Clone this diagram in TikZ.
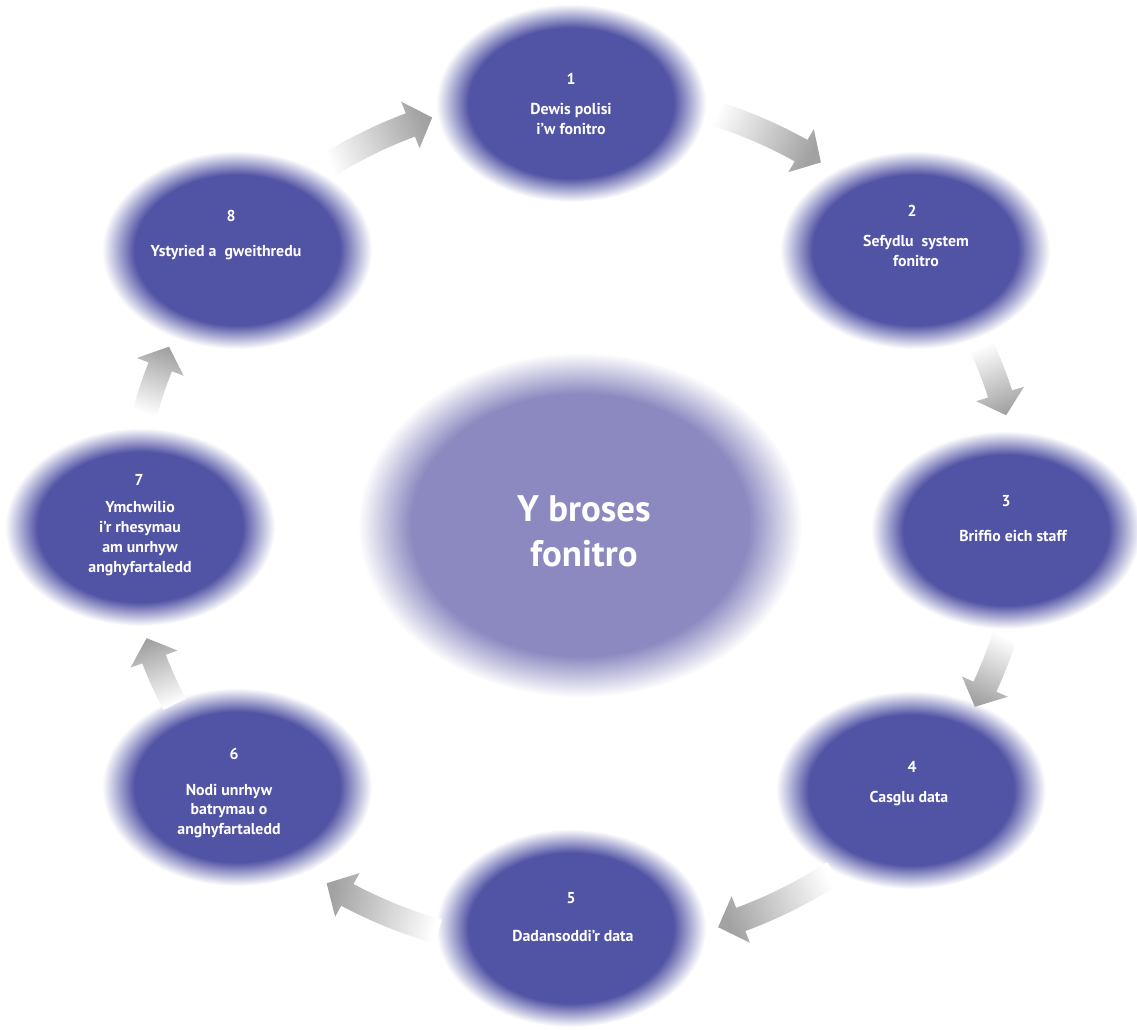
\documentclass[tikz,border=0pt]{standalone}
\usepackage{fontspec}
\setmainfont{PT Sans}
\usetikzlibrary{shapes.geometric}
\definecolor{nodeblue}{RGB}{81,83,164}
\definecolor{hubblue}{RGB}{139,137,192}
\definecolor{arrowgray}{RGB}{162,162,162}
\pgfdeclareradialshading{stepfade}{\pgfpoint{0bp}{0bp}}{color(0bp)=(nodeblue); color(19bp)=(nodeblue); color(25bp)=(white); color(50bp)=(white)}
\pgfdeclareradialshading{hubfade}{\pgfpoint{0bp}{0bp}}{color(0bp)=(hubblue); color(19bp)=(hubblue); color(25bp)=(white); color(50bp)=(white)}
% ring arrow: #1 tail angle, #2 tip angle, #3 ring scale, #4 shading angle
\newcommand{\ringarrow}[4]{%
  \pgfmathsetmacro\thh{#2-3}%
  \shade[top color=arrowgray, bottom color=white, shading angle=#4]
    plot[domain=#1:\thh, samples=14] ({573+(435*#3+12.5)*cos(\x)}, {515+(411*#3+12.5)*sin(\x)})
    -- ({573+(435*#3+25)*cos(\thh)}, {515+(411*#3+25)*sin(\thh)})
    -- ({573+435*#3*cos(#2)}, {515+411*#3*sin(#2)})
    -- ({573+(435*#3-25)*cos(\thh)}, {515+(411*#3-25)*sin(\thh)})
    -- plot[domain=\thh:#1, samples=14] ({573+(435*#3-12.5)*cos(\x)}, {515+(411*#3-12.5)*sin(\x)})
    -- cycle;
}
% step label: #1 name, #2 num x, #3 num baseline, #4 text x, #5 first baseline, #6 number, #7 lines
\newcommand{\steplabel}[7]{%
  \node[steptext] (#1n) at (#2,#3) {#6};
  \foreach \ln [count=\i] in {#7} {\node[steptext] (#1l\i) at (#4,{#5+19.7*(\i-1)}) {\ln};}
}
\tikzset{
  stepnode/.style={ellipse, shade, shading=stepfade, minimum width=5.4cm, minimum height=3.96cm, inner sep=0pt},
  hubnode/.style={ellipse, shade, shading=hubfade, minimum width=8.88cm, minimum height=6.9cm, inner sep=0pt},
  steptext/.style={text=white, font=\fontsize{9}{11}\selectfont\bfseries, anchor=base, inner sep=0pt},
  hubtext/.style={text=white, font=\fontsize{21}{25}\selectfont\bfseries, anchor=base, inner sep=0pt},
}
\begin{document}
\begin{tikzpicture}[x=0.02cm, y=-0.02cm]
\fill[white] (0,0) rectangle (1137,1030);
\useasboundingbox (0,0) rectangle (1137,1030);
\coordinate (ring) at (573,515);
% hub
\node[hubnode] (hub) at (580,525) {};
\node[hubtext] (hubA) at (584,522) {Y broses};
\node[hubtext] (hubB) at (584,567) {fonitro};
% steps
\node[stepnode] (s1) at (571,103) {};
\node[stepnode] (s2) at (915,250) {};
\node[stepnode] (s3) at (1006,530) {};
\node[stepnode] (s4) at (911,790) {};
\node[stepnode] (s5) at (571,928) {};
\node[stepnode] (s6) at (237,787) {};
\node[stepnode] (s7) at (140,527) {};
\node[stepnode] (s8) at (237,250) {};
% arrows
\ringarrow{236}{251.5}{1.02}{-66.6}
\ringarrow{-72.5}{-56.4}{1.03}{-115.6}
\ringarrow{-23.8}{-13.7}{1.025}{-159.9}
\ringarrow{16.2}{26.8}{1.035}{-204.3}
\ringarrow{55.4}{71.6}{1.057}{-246.3}
\ringarrow{107}{122.3}{1.06}{78.5}
\ringarrow{153.3}{163}{1.025}{20.2}
\ringarrow{193.9}{203.8}{1.015}{-17.8}
% labels
\steplabel{t1}{571}{85}{571}{115}{1}{Dewis polisi, i’w fonitro}
\steplabel{t2}{912}{217}{916}{247}{2}{Sefydlu\ \ system, fonitro}
\steplabel{t3}{1006}{507}{1013}{542}{3}{Briffio eich staff}
\steplabel{t4}{912}{772}{909}{802}{4}{Casglu data}
\steplabel{t5}{571}{903}{573}{941}{5}{Dadansoddi’r data}
\steplabel{t6}{234}{760}{229}{795}{6}{Nodi unrhyw, batrymau o, anghyfartaledd}
\steplabel{t7}{139}{486}{140}{513}{7}{Ymchwilio, i’r rhesymau, am unrhyw, anghyfartaledd}
\steplabel{t8}{231}{222}{226}{257}{8}{Ystyried a\ \ gweithredu}
\end{tikzpicture}
\end{document}
